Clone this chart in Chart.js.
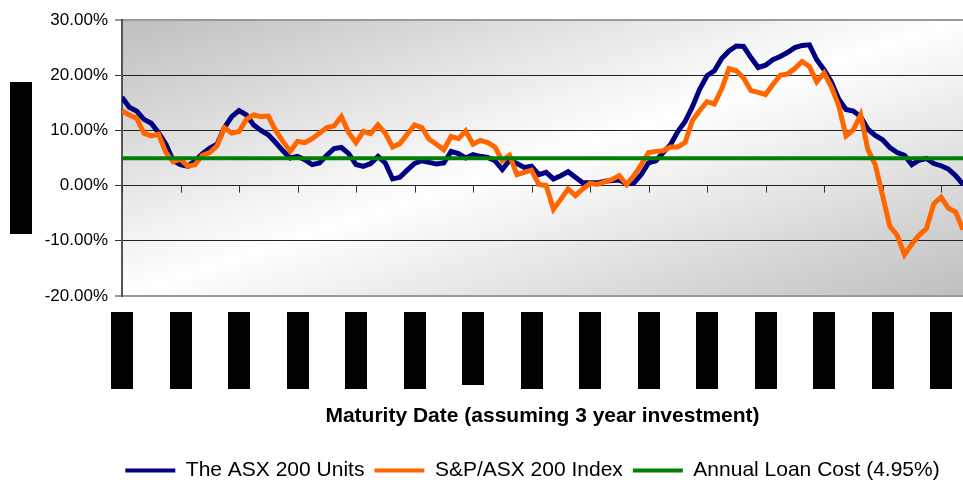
<!DOCTYPE html>
<html>
<head>
<meta charset="utf-8">
<script src="https://cdn.jsdelivr.net/npm/chart.js@4.4.1/dist/chart.umd.min.js"></script>
<style>
  html, body { margin: 0; padding: 0; background: #fff; }
</style>
</head>
<body>
<canvas id="returnsChart" width="963" height="486"></canvas>
<script>
const FONT = "'Liberation Sans', Arial, sans-serif";

// one value every 1/8 of a label interval (x = period index)
const asxUnits = [
  16.0, 14.2, 13.5, 12.0, 11.3, 9.6, 7.5, 4.5, 3.8, 3.5,
  4.5, 5.8, 6.8, 7.5, 10.5, 12.5, 13.6, 12.8, 11.0, 10.0,
  9.2, 7.8, 6.3, 5.0, 5.3, 4.7, 3.8, 4.1, 5.5, 6.7,
  6.9, 5.8, 3.8, 3.5, 4.0, 5.3, 4.1, 1.2, 1.5, 2.8,
  4.0, 4.5, 4.2, 3.9, 4.1, 6.2, 5.8, 5.0, 5.6, 5.3,
  5.1, 4.5, 2.9, 4.6, 4.0, 3.3, 3.5, 2.0, 2.4, 1.2,
  1.8, 2.5, 1.5, 0.5, 0.5, 0.5, 0.8, 0.9, 1.0, 0.3,
  0.5, 2.0, 4.1, 4.5, 6.0, 7.4, 9.8, 11.6, 14.3, 17.5,
  19.9, 20.8, 23.0, 24.4, 25.3, 25.2, 23.2, 21.4, 21.8, 22.8,
  23.4, 24.1, 25.0, 25.4, 25.5, 22.8, 21.0, 18.8, 15.7, 13.8,
  13.5, 12.5, 10.2, 9.1, 8.3, 6.9, 6.0, 5.5, 3.8, 4.6,
  4.9, 4.0, 3.6, 3.0, 1.8, 0.2
];

const spAsx200 = [
  13.5, 12.8, 12.2, 9.5, 9.0, 9.3, 6.0, 4.3, 4.8, 3.5,
  3.8, 5.5, 6.0, 7.2, 10.5, 9.5, 9.8, 12.0, 12.8, 12.5,
  12.6, 10.0, 8.0, 6.2, 8.0, 7.8, 8.5, 9.5, 10.5, 10.8,
  12.5, 9.6, 7.8, 9.8, 9.4, 11.0, 9.5, 7.0, 7.6, 9.3,
  11.0, 10.5, 8.4, 7.5, 6.5, 8.9, 8.5, 9.9, 7.5, 8.2,
  7.8, 7.0, 4.5, 5.5, 2.0, 2.4, 2.8, 0.2, 0.0, -4.3,
  -2.5, -0.6, -1.8, -0.6, 0.4, 0.2, 0.7, 1.1, 1.8, 0.2,
  1.8, 3.8, 6.0, 6.2, 6.3, 7.0, 7.0, 7.8, 11.8, 13.6,
  15.2, 14.8, 17.5, 21.2, 20.8, 19.5, 17.2, 16.9, 16.5, 18.3,
  20.0, 20.2, 21.2, 22.5, 21.6, 18.8, 20.4, 17.9, 14.5, 9.0,
  10.1, 12.8, 6.5, 3.8, -1.8, -7.4, -9.0, -12.5, -10.6, -9.0,
  -7.8, -3.3, -2.1, -4.1, -4.8, -8.0
];

const loanPeriods = [0, 115];
const loanCost = [4.95, 4.95];

// the date labels are blacked out in the source; length of each black block
const redactedLabelLen = [77, 77, 77, 77, 77, 77, 73, 77, 77, 77, 77, 77, 77, 77, 77];

const toPoints = arr => arr.map((v, i) => ({ x: i, y: v }));

const plotDecor = {
  id: 'plotDecor',
  beforeDraw(chart) {
    const { ctx, chartArea: a } = chart;
    const w = a.right - a.left, h = a.bottom - a.top;
    const cx = (a.left + a.right) / 2, cy = (a.top + a.bottom) / 2;
    const k = w * h / (w * w + h * h);
    const g = ctx.createLinearGradient(cx - k * h, cy - k * w, cx + k * h, cy + k * w);
    g.addColorStop(0, '#bfbfbf');
    g.addColorStop(0.5, '#ffffff');
    g.addColorStop(1, '#bfbfbf');
    ctx.save();
    ctx.fillStyle = g;
    ctx.fillRect(a.left, a.top, w, h);
    ctx.restore();
  },
  beforeDatasetsDraw(chart) {
    // Excel puts the category axis on the 0% line
    const { ctx, scales: { x, y } } = chart;
    const y0 = y.getPixelForValue(0);
    ctx.save();
    ctx.strokeStyle = '#333';
    ctx.lineWidth = 1;
    x.ticks.forEach(t => {
      const px = Math.round(x.getPixelForValue(t.value)) + 0.5;
      ctx.beginPath();
      ctx.moveTo(px, y0);
      ctx.lineTo(px, y0 + 7);
      ctx.stroke();
    });
    ctx.restore();
  },
  afterDraw(chart) {
    const { ctx, chartArea: a, scales: { x } } = chart;
    ctx.save();
    ctx.fillStyle = '#000';
    x.ticks.forEach((t, i) => {
      const px = x.getPixelForValue(t.value);
      ctx.fillRect(Math.round(px) - 11, a.bottom + 16, 22, redactedLabelLen[i] || 77);
    });
    // blacked-out y axis title
    ctx.fillRect(10, 82, 22, 152);
    ctx.restore();
  },
  afterLayout(chart) {
    const lg = chart.legend;
    lg.top += 5; lg.bottom += 5;
    lg.left -= 10; lg.right -= 10;
  }
};

new Chart(document.getElementById('returnsChart'), {
  type: 'line',
  data: {
    datasets: [{
      label: 'The ASX 200 Units',
      data: toPoints(asxUnits),
      borderColor: '#000080',
      backgroundColor: '#000080',
      borderWidth: 5,
      pointRadius: 0,
      tension: 0,
      order: 3
    }, {
      label: 'S&P/ASX 200 Index',
      data: toPoints(spAsx200),
      borderColor: '#ff6600',
      backgroundColor: '#ff6600',
      borderWidth: 5,
      pointRadius: 0,
      tension: 0,
      order: 2
    }, {
      label: 'Annual Loan Cost (4.95%)',
      data: loanCost.map((v, i) => ({ x: loanPeriods[i], y: v })),
      borderColor: '#008000',
      backgroundColor: '#008000',
      borderWidth: 4,
      pointRadius: 0,
      order: 1
    }]
  },
  options: {
    responsive: false,
    animation: false,
    layout: { padding: { top: 20, right: 0, bottom: 0, left: 0 } },
    plugins: {
      tooltip: { enabled: false },
      legend: {
        position: 'bottom',
        fullSize: false,
        labels: {
          boxWidth: 50,
          boxHeight: 4,
          padding: 10,
          color: '#000',
          font: { family: FONT, size: 21 },
          sort: (a, b) => a.datasetIndex - b.datasetIndex,
          generateLabels(chart) {
            return Chart.defaults.plugins.legend.labels.generateLabels(chart)
              .map(l => ({ ...l, fillStyle: l.strokeStyle, lineWidth: 0 }));
          }
        }
      }
    },
    scales: {
      x: {
        type: 'linear',
        min: 0,
        max: 115,
        ticks: { display: false, stepSize: 8, includeBounds: false },
        grid: { display: false },
        border: { display: false },
        title: {
          display: true,
          text: 'Maturity Date (assuming 3 year investment)',
          color: '#000',
          font: { family: FONT, size: 21, weight: 'bold' },
          padding: { top: 0, bottom: 16 }
        },
        afterFit(scale) { scale.height = 149; }
      },
      y: {
        min: -20,
        max: 30,
        ticks: {
          stepSize: 10,
          color: '#000',
          padding: 7,
          font: { family: FONT, size: 17 },
          callback: v => v.toFixed(2) + '%'
        },
        grid: {
          color: c => (c.tick && (c.tick.value === 30 || c.tick.value === -20)) ? '#9a9a9a' : '#222',
          lineWidth: c => (c.tick && (c.tick.value === 30 || c.tick.value === -20)) ? 2 : 1,
          tickLength: 7,
          tickColor: '#333',
          tickWidth: 1
        },
        border: { display: true, color: '#555', width: 2 },
        afterFit(scale) { scale.width = 122; }
      }
    }
  },
  plugins: [plotDecor]
});
</script>
</body>
</html>
